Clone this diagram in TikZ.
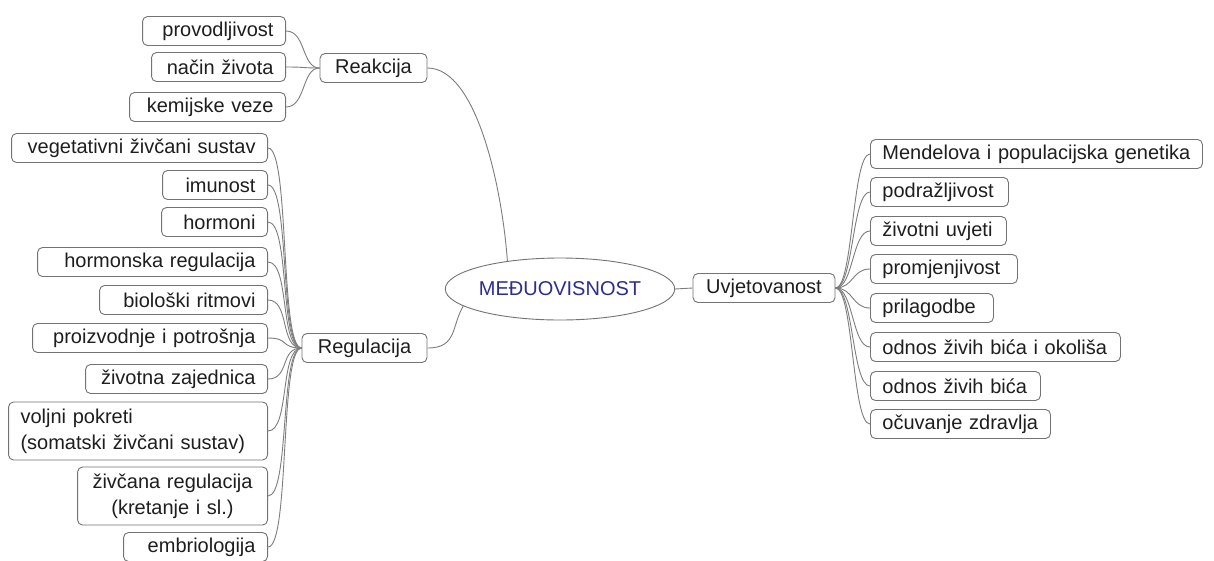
\documentclass[tikz,border=0pt]{standalone}
\usepackage{fontspec}
\setmainfont{Liberation Sans}
\usetikzlibrary{shapes.geometric}
\definecolor{edgec}{RGB}{125,125,125}
\definecolor{bord}{RGB}{115,115,115}
\definecolor{txt}{RGB}{30,30,30}
\definecolor{cent}{RGB}{45,45,140}
\begin{document}
\begin{tikzpicture}[x=1pt,y=-1pt,
 box/.style={draw=bord, line width=0.9pt, rounded corners=5pt, fill=white, text=txt,
   font=\fontsize{20}{26}\selectfont, inner xsep=12pt, inner ysep=2pt, minimum height=29pt},
 lleaf/.style={box, anchor=east, align=right},
 rleaf/.style={box, anchor=west, align=left},
 midbox/.style={box, anchor=center, align=center},
 conn/.style={draw=edgec, line width=0.9pt}]
\fill[white] (0,0) rectangle (1214,560);
\useasboundingbox (0,0) rectangle (1214,560);

% Reakcija group
\node[lleaf, text width=119pt] (prov) at (286,31) {provodljivost};
\node[lleaf, text width=110pt] (nacin) at (286,67) {način života};
\node[lleaf, text width=132pt] (kem) at (286,107) {kemijske veze};
\node[midbox, minimum width=107pt] (reak) at (373.5,68) {Reakcija};

% Regulacija group
\node[lleaf, text width=232pt] (veg) at (268,148) {vegetativni živčani sustav};
\node[lleaf, text width=81pt] (imu) at (268,185) {imunost};
\node[lleaf, text width=82pt] (hor) at (268,222) {hormoni};
\node[lleaf, text width=206pt] (hreg) at (268,262) {hormonska regulacija};
\node[lleaf, text width=144pt] (bio) at (268,300) {biološki ritmovi};
\node[lleaf, text width=211pt] (proiz) at (268,338) {proizvodnje i potrošnja};
\node[lleaf, text width=158pt] (zaj) at (268,379) {životna zajednica};
\node[lleaf, text width=235pt, align=left, minimum height=58pt] (volj) at (268,431) {voljni pokreti\\ (somatski živčani sustav)};
\node[lleaf, text width=166pt, align=center, minimum height=58pt] (zreg) at (268,496) {živčana regulacija\\ (kretanje i sl.)};
\node[lleaf, text width=120pt] (emb) at (268,547) {embriologija};
\node[midbox, minimum width=125pt] (reg) at (364.5,348) {Regulacija};

% centre
\node[ellipse, draw=bord, line width=0.9pt, fill=white, text=cent, inner sep=0pt,
  minimum width=196pt, minimum height=62pt, font=\fontsize{20}{26}\selectfont] (core) at (560,289) {MEĐUOVISNOST};

% Uvjetovanost group
\node[midbox, minimum width=142pt] (uvj) at (764,288) {Uvjetovanost};
\node[rleaf, text width=308pt] (mend) at (870,154) {Mendelova i populacijska genetika};
\node[rleaf, text width=114pt] (podr) at (870,192) {podražljivost};
\node[rleaf, text width=112pt] (zuv) at (870,231) {životni uvjeti};
\node[rleaf, text width=123pt] (prom) at (870,269) {promjenjivost};
\node[rleaf, text width=99pt] (pril) at (870,308) {prilagodbe};
\node[rleaf, text width=226pt] (okol) at (870,347) {odnos živih bića i okoliša};
\node[rleaf, text width=146pt] (ozb) at (870,386) {odnos živih bića};
\node[rleaf, text width=156pt] (ocu) at (870,424) {očuvanje zdravlja};

% connectors
\foreach \c in {prov,nacin,kem}
  \draw[conn] (\c.east) .. controls +(20,0) and +(-18,0) .. (reak.west);
\foreach \c in {veg,imu,hor,hreg,bio,proiz,zaj,volj,zreg,emb}
  \draw[conn] (\c.east) .. controls +(22,0) and +(-22,0) .. (reg.west);
\foreach \c in {mend,podr,zuv,prom,pril,okol,ozb,ocu}
  \draw[conn] (uvj.east) .. controls +(18,0) and +(-18,0) .. (\c.west);
\draw[conn] (reak.east) .. controls +(50,0) and +(-5,-70) .. (core.152);
\draw[conn] (reg.east) .. controls +(30,0) and +(-12,20) .. (core.190);
\draw[conn] (core.east) -- (uvj.west);
\end{tikzpicture}
\end{document}
